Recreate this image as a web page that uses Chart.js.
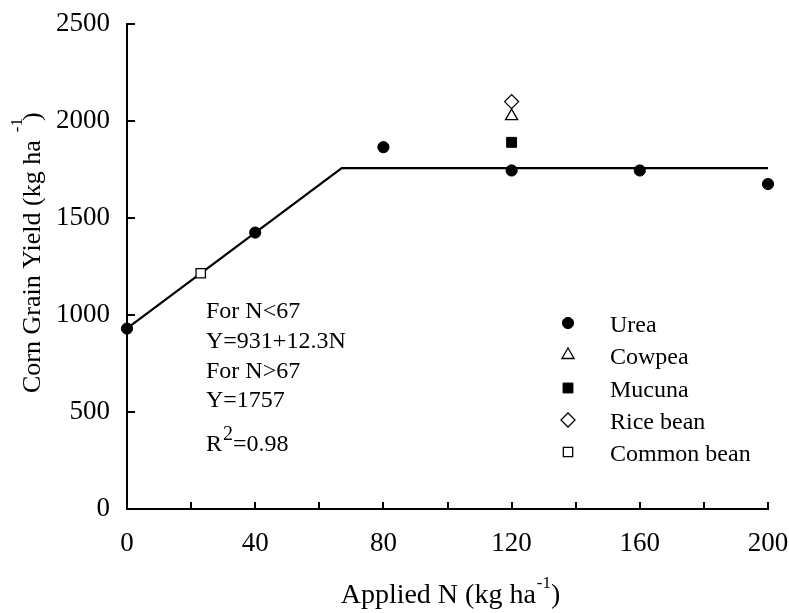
<!DOCTYPE html>
<html>
<head>
<meta charset="utf-8">
<script src="https://cdn.jsdelivr.net/npm/chart.js@4/dist/chart.umd.min.js"></script>
<style>
html,body{margin:0;padding:0;background:#fff;}
#wrap{width:789px;height:613px;}
</style>
</head>
<body>
<div id="wrap"><canvas id="c" width="789" height="613"></canvas></div>
<script>
// ---- data ----
const ureaN = [0, 40, 80, 120, 160, 200];
const ureaYield = [930, 1425, 1865, 1745, 1745, 1675];
const cowpeaN = [120];
const cowpeaYield = [2025];
const mucunaN = [120];
const mucunaYield = [1890];
const riceBeanN = [120];
const riceBeanYield = [2100];
const commonBeanN = [23];
const commonBeanYield = [1215];
const fitN = [0, 67, 200];
const fitYield = [931, 1757, 1757];

const xTickValues = [0, 20, 40, 60, 80, 100, 120, 140, 160, 180, 200];
const xLabelledTicks = [0, 40, 80, 120, 160, 200];
const yTickValues = [0, 500, 1000, 1500, 2000, 2500];

const xTitle = ['Applied N (kg ha', '-1', ')'];
const yTitle = ['Corn Grain Yield (kg ha', '-1', ')'];
const equationLines = ['For N<67', 'Y=931+12.3N', 'For N>67', 'Y=1757'];
const r2Text = ['R', '2', '=0.98'];

const FONT = '"Liberation Serif", "Times New Roman", serif';

function pts(xs, ys) { return xs.map((x, i) => ({ x: x, y: ys[i] })); }

const datasets = [
  { label: 'Urea', data: pts(ureaN, ureaYield), pointStyle: 'circle', pointRadius: 5.6,
    backgroundColor: '#000', borderColor: '#000', borderWidth: 1, showLine: false, clip: false },
  { label: 'Cowpea', data: pts(cowpeaN, cowpeaYield), pointStyle: 'triangle', pointRadius: 7,
    backgroundColor: '#fff', borderColor: '#000', borderWidth: 1.3, showLine: false, clip: false },
  { label: 'Mucuna', data: pts(mucunaN, mucunaYield), pointStyle: 'rect', pointRadius: 7,
    backgroundColor: '#000', borderColor: '#000', borderWidth: 1, showLine: false, clip: false },
  { label: 'Rice bean', data: pts(riceBeanN, riceBeanYield), pointStyle: 'rectRot', pointRadius: 7,
    backgroundColor: '#fff', borderColor: '#000', borderWidth: 1.3, showLine: false, clip: false },
  { label: 'Common bean', data: pts(commonBeanN, commonBeanYield), pointStyle: 'rect', pointRadius: 6.6,
    backgroundColor: '#fff', borderColor: '#000', borderWidth: 1.3, showLine: false, clip: false },
  { label: 'fit', data: pts(fitN, fitYield), showLine: true, pointRadius: 0, borderColor: '#000',
    borderWidth: 2.2, fill: false, tension: 0, clip: false }
];

const legendItems = ['Urea', 'Cowpea', 'Mucuna', 'Rice bean', 'Common bean'];

const decorPlugin = {
  id: 'decor',
  afterDatasetsDraw(chart) {
    const ctx = chart.ctx;
    const xs = chart.scales.x, ys = chart.scales.y;
    const ca = chart.chartArea;
    ctx.save();
    // inward tick marks
    ctx.strokeStyle = '#000';
    ctx.lineWidth = 2;
    ctx.beginPath();
    yTickValues.forEach(v => {
      const y = Math.round(ys.getPixelForValue(v));
      ctx.moveTo(ca.left, y); ctx.lineTo(ca.left + 8, y);
    });
    xTickValues.forEach(v => {
      const x = Math.round(xs.getPixelForValue(v));
      ctx.moveTo(x, ca.bottom); ctx.lineTo(x, ca.bottom - 7);
    });
    ctx.stroke();

    ctx.fillStyle = '#000';
    // equation annotation
    ctx.font = '24px ' + FONT;
    ctx.textAlign = 'left';
    ctx.textBaseline = 'alphabetic';
    const ax = ca.left + 79;
    const baselines = [318, 348, 378, 407];
    equationLines.forEach((t, i) => ctx.fillText(t, ax, baselines[i]));
    // R^2
    ctx.fillText(r2Text[0], ax, 451);
    let w = ctx.measureText(r2Text[0]).width;
    ctx.font = '20px ' + FONT;
    ctx.fillText(r2Text[1], ax + w + 1, 440);
    const w2 = ctx.measureText(r2Text[1]).width;
    ctx.font = '24px ' + FONT;
    ctx.fillText(r2Text[2], ax + w + 1 + w2, 451);

    // legend
    const markerX = 568, textX = 610;
    const centers = [323, 355, 388, 420, 452];
    legendItems.forEach((name, i) => {
      const ds = chart.data.datasets[i];
      ctx.fillStyle = ds.backgroundColor;
      ctx.strokeStyle = ds.borderColor;
      ctx.lineWidth = ds.borderWidth;
      Chart.helpers.drawPoint(ctx, {
        pointStyle: ds.pointStyle, radius: ds.pointRadius, rotation: 0,
        borderWidth: ds.borderWidth
      }, markerX, centers[i]);
      ctx.fillStyle = '#000';
      ctx.font = '24px ' + FONT;
      ctx.fillText(name, textX, centers[i] + 8.5);
    });

    // x title
    ctx.fillStyle = '#000';
    const mainF = '28px ' + FONT, supF = '17px ' + FONT;
    ctx.font = mainF;
    const xw0 = ctx.measureText(xTitle[0]).width;
    const xw2 = ctx.measureText(xTitle[2]).width;
    ctx.font = supF;
    const xw1 = ctx.measureText(xTitle[1]).width;
    const totalX = xw0 + xw1 + xw2 + 1;
    let sx = (ca.left + ca.right) / 2 - totalX / 2 + 3;
    const by = 603;
    ctx.font = mainF; ctx.fillText(xTitle[0], sx, by);
    ctx.font = supF; ctx.fillText(xTitle[1], sx + xw0 + 1, by - 15);
    ctx.font = mainF; ctx.fillText(xTitle[2], sx + xw0 + 1 + xw1, by);

    // y title (rotated)
    ctx.save();
    ctx.translate(40, 393);
    ctx.rotate(-Math.PI / 2);
    const yMainF = '26px ' + FONT, ySupF = '17px ' + FONT;
    ctx.font = yMainF;
    const yw0 = ctx.measureText(yTitle[0]).width;
    ctx.fillText(yTitle[0], 0, 0);
    ctx.font = ySupF;
    const yw1 = ctx.measureText(yTitle[1]).width;
    ctx.fillText(yTitle[1], yw0 + 8, -18);
    ctx.font = yMainF;
    ctx.fillText(yTitle[2], yw0 + 8 + yw1 - 3, 0);
    ctx.restore();

    ctx.restore();
  }
};

new Chart(document.getElementById('c'), {
  type: 'scatter',
  data: { datasets: datasets },
  options: {
    responsive: false,
    animation: false,
    devicePixelRatio: 1,
    layout: { padding: { left: 0, right: 21, top: 24, bottom: 0 } },
    plugins: { legend: { display: false }, tooltip: { enabled: false } },
    scales: {
      x: {
        type: 'linear', min: 0, max: 200,
        afterBuildTicks: s => { s.ticks = xTickValues.map(v => ({ value: v })); },
        ticks: {
          autoSkip: false, maxRotation: 0,
          callback: v => xLabelledTicks.includes(v) ? String(v) : '',
          color: '#000', font: { family: FONT, size: 27 }, padding: 19
        },
        grid: { display: false, drawTicks: false },
        border: { display: true, color: '#000', width: 2 },
        afterFit: s => { s.height = 104; s.paddingLeft = 0; s.paddingRight = 0; }
      },
      y: {
        type: 'linear', min: 0, max: 2500,
        afterBuildTicks: s => { s.ticks = yTickValues.map(v => ({ value: v })); },
        ticks: {
          autoSkip: false,
          callback: v => String(v),
          color: '#000', font: { family: FONT, size: 27 }, padding: 17
        },
        grid: { display: false, drawTicks: false },
        border: { display: true, color: '#000', width: 2 },
        afterFit: s => { s.width = 127; s.paddingTop = 0; s.paddingBottom = 0; }
      }
    }
  },
  plugins: [decorPlugin]
});
</script>
</body>
</html>
